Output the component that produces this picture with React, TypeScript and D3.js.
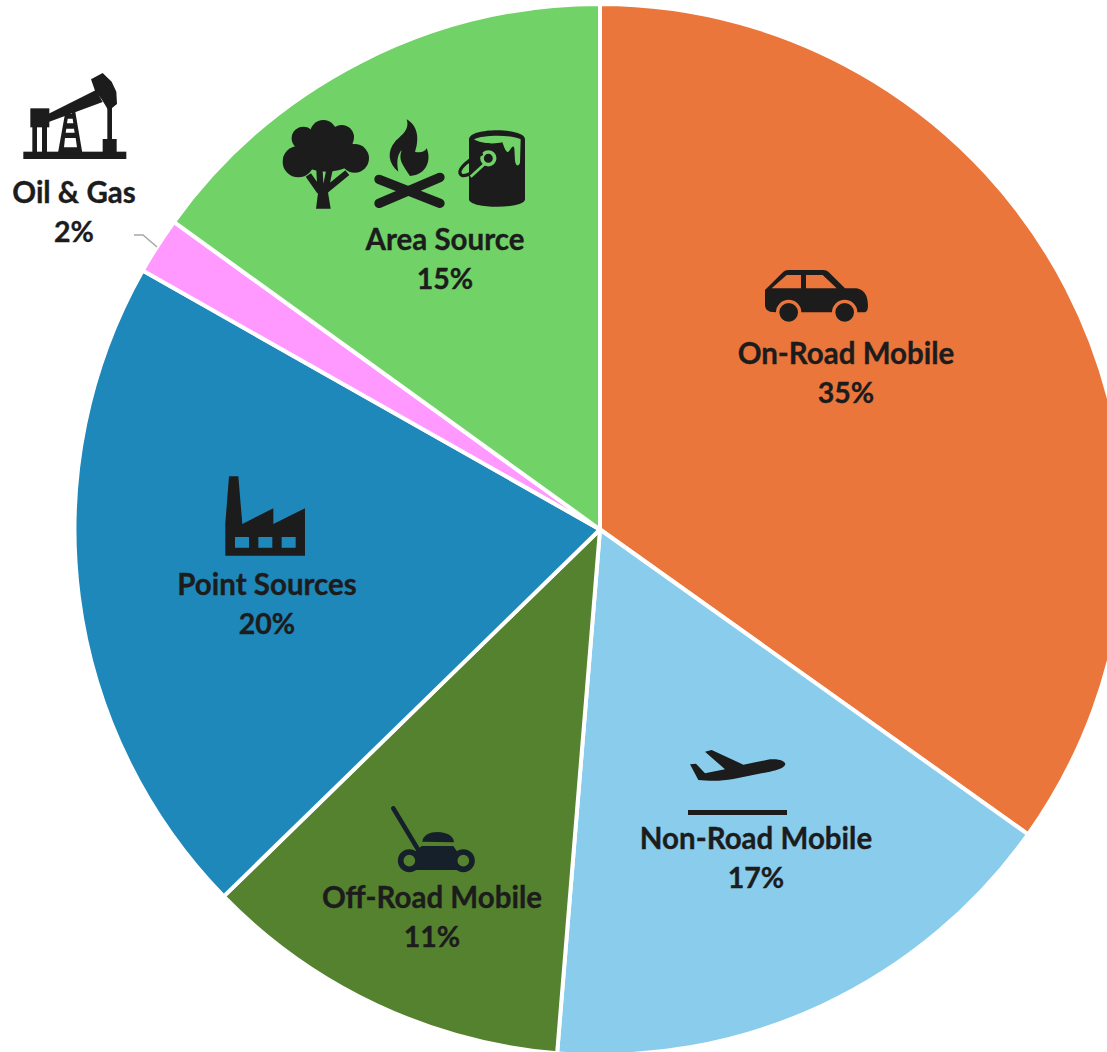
import React from "react";
import * as d3 from "d3";

const categories = ["On-Road Mobile", "Non-Road Mobile", "Off-Road Mobile", "Point Sources", "Oil & Gas", "Area Source"];
const shares = [34.85, 16.45, 11.4, 20.5, 1.75, 15.05];
const percentLabels = ["35%", "17%", "11%", "20%", "2%", "15%"];
const sliceColors = ["#EB763B", "#89CCEC", "#55822F", "#1F88BA", "#FF99FF", "#70D267"];

const WIDTH = 1107, HEIGHT = 1052, CX = 600, CY = 529.5, R = 525.5;
const INK = "#1c1c1c";
const labelAnchors: [number, number][] = [[846, 364], [756, 849], [432, 908], [267, 595], [74, 203], [445, 250]];
const LINE_GAP = 38.5;

const Zoomed = ({ x, y, children }: { x: number; y: number; children: React.ReactNode }) => (
  <g transform={`translate(${x},${y}) scale(${1 / 3})`}>{children}</g>
);

const Car = () => (
  <Zoomed x={750} y={255}>
    <path fill={INK} fillRule="evenodd" d="M45 105 L100 50 Q105 45 115 45 L220 45 Q230 45 235 50 L285 100 L320 100 Q352 105 354 150 Q354 170 345 172 L322 172 A38 38 0 0 0 246 172 L154 172 A38 38 0 0 0 78 172 L60 170 Q45 165 45 150 Z M65 100 L110 60 L153 60 L153 100 Z M168 60 L218 60 L260 100 L168 100 Z" />
    <circle cx={116} cy={172} r={28} fill={INK} />
    <circle cx={284} cy={172} r={28} fill={INK} />
  </Zoomed>
);

const Plane = () => (
  <Zoomed x={670} y={730}>
    <path fill={INK} d="M60 103 L78 101 L105 130 L165 118 L105 65 L125 60 L220 104 L300 88 C330 85 350 95 345 105 C340 115 320 120 300 125 L190 147 C150 155 110 152 85 150 Z" />
    <rect x={54} y={240} width={297} height={15} fill={INK} />
  </Zoomed>
);

const Mower = () => {
  const c = "#15202a";
  return (
    <Zoomed x={370} y={790}>
      <path d="M70 55 L148 185" stroke={c} strokeWidth={14} strokeLinecap="round" fill="none" />
      <path fill={c} d="M157 155 C160 115 250 118 252 157 Z" />
      <path fill={c} d="M135 185 L155 168 L250 168 L265 190 L265 240 L135 240 Z" />
      <circle cx={118} cy={212} r={26} fill={sliceColors[2]} stroke={c} strokeWidth={17} />
      <circle cx={280} cy={212} r={26} fill={sliceColors[2]} stroke={c} strokeWidth={17} />
    </Zoomed>
  );
};

const Factory = () => (
  <Zoomed x={210} y={465}>
    <path fill={INK} fillRule="evenodd" d="M46 272 L46 175 L57 34 L85 34 L97 177 L190 130 L190 177 L285 130 L285 272 Z M75 216 L75 248 L117 248 L117 216 Z M145 216 L145 248 L187 248 L187 216 Z M215 216 L215 248 L257 248 L257 216 Z" />
  </Zoomed>
);

const Pump = () => (
  <Zoomed x={0} y={60}>
    <rect x={70} y={275} width={309} height={22} fill={INK} />
    <rect x={91} y={145} width={57} height={57} fill={INK} />
    <rect x={97} y={200} width={14} height={78} fill={INK} />
    <rect x={126} y={200} width={15} height={78} fill={INK} />
    <path fill={INK} d="M140 164 L288 90 L308 126 L146 186 Z" />
    <path fill={INK} fillRule="evenodd" d="M198 145 L224 145 L247 278 L174 278 Z M206 152 L205 162 L216 162 L215 152 Z M203 176 L201 190 L220 190 L218 176 Z M199 206 L197 218 L224 218 L222 206 Z M195 234 L192 262 L231 262 L227 234 Z" />
    <path fill={INK} d="M273 58 L308 39 L335 65 L349 95 L351 132 L326 152 L305 118 L285 92 Z" />
    <rect x={322} y={135} width={14} height={105} fill={INK} />
    <rect x={308} y={237} width={42} height={40} fill={INK} />
  </Zoomed>
);

const AreaIcons = () => {
  const bg = sliceColors[5];
  return (
    <Zoomed x={270} y={110}>
      <g fill={INK}>
        <circle cx={100} cy={85} r={35} />
        <circle cx={160} cy={70} r={40} />
        <circle cx={215} cy={82} r={37} />
        <circle cx={254} cy={145} r={43} />
        <circle cx={85} cy={155} r={47} />
        <ellipse cx={170} cy={130} rx={92} ry={55} />
        <path d="M138 296 L146 235 L172 235 L182 296 Z" />
      </g>
      <path d="M150 245 L115 195 M152 245 L148 172 M165 245 L180 172 M168 240 L232 188" stroke={INK} strokeWidth={19} fill="none" />
      <path fill={INK} d="M410 28 C450 50 445 100 435 125 C450 130 465 125 470 115 C485 150 470 195 420 198 C395 160 385 150 395 120 C385 130 378 150 385 185 C355 160 350 125 375 95 C395 75 420 60 410 28 Z" />
      <path d="M327 208 L510 280 M327 280 L510 202" stroke={INK} strokeWidth={28} strokeLinecap="round" fill="none" />
      <path fill={INK} d="M597 88 C597 52 765 52 765 88 L765 268 C765 298 597 298 597 268 Z" />
      <path fill={bg} d="M612 88 C640 74 725 74 752 88 L750 158 C746 170 738 170 735 152 L733 115 C728 100 722 122 714 126 C708 128 702 110 697 97 C670 104 630 100 612 88 Z" />
      <circle cx={655} cy={145} r={19} fill="none" stroke={bg} strokeWidth={11} />
      <path d="M638 130 C600 145 565 175 570 190 C575 205 600 195 640 168" fill="none" stroke={INK} strokeWidth={10} />
      <path d="M643 163 L602 200" fill="none" stroke={bg} strokeWidth={8} />
    </Zoomed>
  );
};

export default function App() {
  const pie = d3.pie<number>().sort(null).value((d) => d);
  const arc = d3.arc<d3.PieArcDatum<number>>().innerRadius(0).outerRadius(R);
  const arcs = pie(shares);
  return (
    <svg width={WIDTH} height={HEIGHT} viewBox={`0 0 ${WIDTH} ${HEIGHT}`}
      style={{ position: "absolute", left: 0, top: 0, display: "block", background: "#fff" }}>
      <g transform={`translate(${CX},${CY})`}>
        {arcs.map((a, i) => (
          <path key={categories[i]} d={arc(a) as string} fill={sliceColors[i]} stroke="#fff" strokeWidth={4} strokeLinejoin="round" />
        ))}
      </g>
      <path d="M134 235 L143 235 L157 247" fill="none" stroke="#a6a6a6" strokeWidth={1.5} />
      <Car /><Plane /><Mower /><Factory /><Pump /><AreaIcons />
      <g fontFamily="Lato, sans-serif" fontWeight={700} fill={INK} stroke={INK} strokeWidth={0.35} textAnchor="middle">
        {categories.map((c, i) => (
          <g key={c}>
            <text x={labelAnchors[i][0]} y={labelAnchors[i][1]} fontSize={29.5}>{c}</text>
            <text x={labelAnchors[i][0]} y={labelAnchors[i][1] + LINE_GAP} fontSize={28.5}>{percentLabels[i]}</text>
          </g>
        ))}
      </g>
    </svg>
  );
}
